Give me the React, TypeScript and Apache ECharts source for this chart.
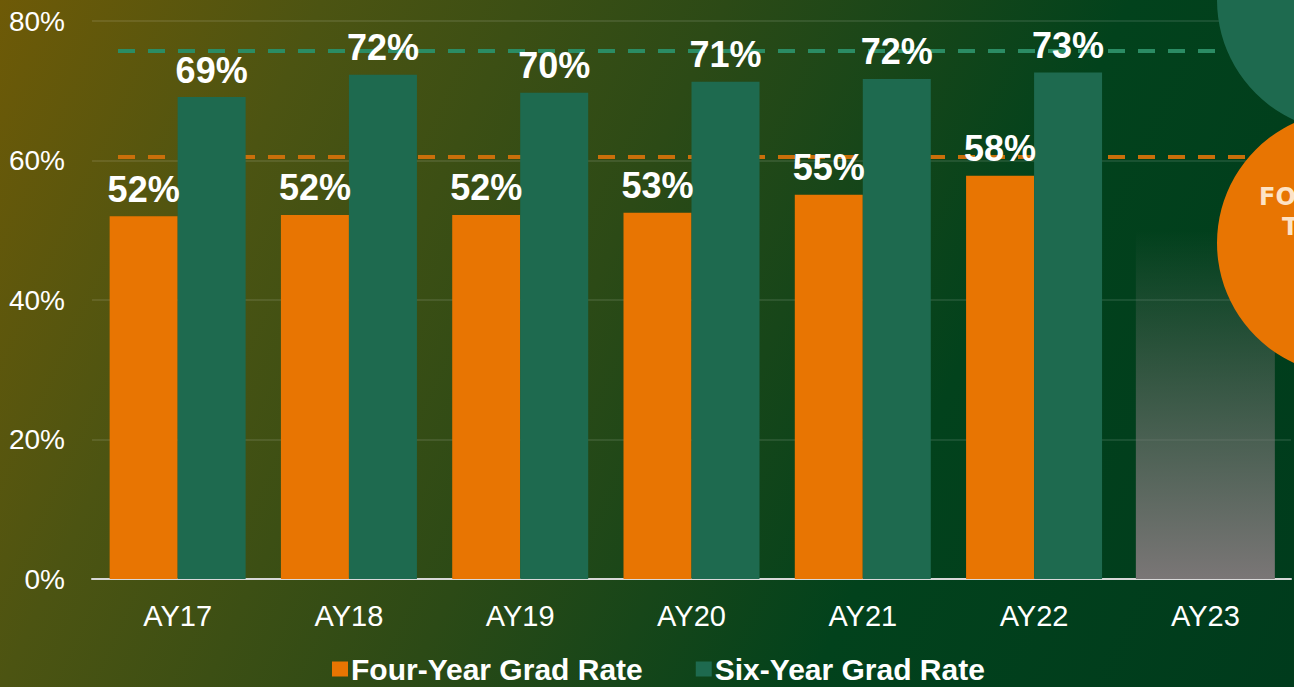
import React, { useEffect, useRef } from "react";
import * as echarts from "echarts";

const categories = ["AY17", "AY18", "AY19", "AY20", "AY21", "AY22", "AY23"];
const fourYear = [52.0, 52.2, 52.2, 52.5, 55.1, 57.8, null];
const sixYear = [69.1, 72.3, 69.7, 71.3, 71.7, 72.6, null];
const pending = [null, null, null, null, null, null, 50];
const targetNames = ["Six-Year Target", "Four-Year Target"];
const targets = [75.7, 60.5];
const targetColors = ["#2b8c64", "#c96f0a"];
const seriesNames = ["Four-Year Grad Rate", "Six-Year Grad Rate"];
const yMin = 0;
const yMax = 80;
const yStep = 20;

const ORANGE = "#e87502";
const GREEN = "#1e6a4f";
const FONT = '"Liberation Sans", Arial, sans-serif';

export default function App() {
  const ref = useRef<HTMLDivElement>(null);

  useEffect(() => {
    document.body.style.margin = "0";
    if (!ref.current) return;
    const chart = echarts.init(ref.current, null, { renderer: "svg" });

    const label = {
      show: true,
      position: "top",
      distance: 9,
      color: "#ffffff",
      fontFamily: FONT,
      fontWeight: "bold",
      fontSize: 36,
      formatter: (p: any) => Math.round(p.value) + "%",
    };

    chart.setOption({
      animation: false,
      backgroundColor: "transparent",
      textStyle: { fontFamily: FONT },
      grid: { left: 92, top: 21, width: 1199, height: 558, containLabel: false },
      legend: {
        data: seriesNames,
        left: 327,
        top: 649,
        icon: "rect",
        itemWidth: 16,
        itemHeight: 15,
        itemGap: 53,
        textStyle: {
          color: "#ffffff",
          fontFamily: FONT,
          fontWeight: "bold",
          fontSize: 30,
          padding: [0, 0, 0, -2],
        },
      },
      xAxis: [
        {
          type: "category",
          data: categories,
          axisLine: { show: true, lineStyle: { color: "#d8d8d8", width: 2 } },
          axisTick: { show: false },
          axisLabel: { color: "#ffffff", fontSize: 29, margin: 22, fontFamily: FONT },
          splitLine: { show: false },
        },
        {
          type: "category",
          data: categories,
          show: false,
        },
      ],
      yAxis: {
        type: "value",
        min: yMin,
        max: yMax,
        interval: yStep,
        axisLine: { show: false },
        axisTick: { show: false },
        axisLabel: {
          color: "#ffffff",
          fontSize: 28,
          margin: 27,
          fontFamily: FONT,
          formatter: "{value}%",
        },
        splitLine: { lineStyle: { color: "rgba(255,255,255,0.13)", width: 1.5 } },
      },
      series: [
        {
          type: "custom",
          name: "targets",
          z: 1,
          silent: true,
          data: targets.map((t) => [0, t]),
          encode: { x: 0, y: 1 },
          renderItem: (params: any, api: any) => {
            const pt = api.coord([0, api.value(1)]);
            const cs = params.coordSys;
            return {
              type: "line",
              shape: { x1: cs.x + 26, y1: pt[1], x2: cs.x + cs.width, y2: pt[1] },
              style: {
                stroke: targetColors[params.dataIndex],
                lineWidth: 4,
                lineDash: [17, 13],
              },
            };
          },
        },
        {
          type: "bar",
          name: "pending",
          xAxisIndex: 1,
          z: 1,
          barWidth: 139,
          silent: true,
          data: pending,
          itemStyle: {
            color: new echarts.graphic.LinearGradient(0, 0, 0, 1, [
              { offset: 0, color: "rgba(122,118,118,0)" },
              { offset: 1, color: "rgba(122,118,118,1)" },
            ]),
          },
        },
        {
          type: "bar",
          name: seriesNames[0],
          z: 2,
          barWidth: 68,
          barGap: "0%",
          data: fourYear,
          itemStyle: { color: ORANGE },
          label,
        },
        {
          type: "bar",
          name: seriesNames[1],
          z: 2,
          barWidth: 68,
          barGap: "0%",
          data: sixYear,
          itemStyle: { color: GREEN },
          label,
        },
      ],
      graphic: [
        {
          type: "circle",
          z: 100,
          shape: { cx: 1349, cy: 0, r: 132 },
          style: { fill: GREEN },
          silent: true,
        },
        {
          type: "circle",
          z: 100,
          shape: { cx: 1349, cy: 243, r: 132 },
          style: { fill: ORANGE },
          silent: true,
        },
        {
          type: "text",
          z: 101,
          x: 1259,
          y: 197,
          style: {
            text: "FOUR-YEAR",
            fill: "#fde3c6",
            font: 'bold 24px "DejaVu Sans", sans-serif',
            verticalAlign: "middle",
            align: "left",
          },
          silent: true,
        },
        {
          type: "text",
          z: 101,
          x: 1282,
          y: 227,
          style: {
            text: "TARGET",
            fill: "#fde3c6",
            font: 'bold 24px "DejaVu Sans", sans-serif',
            verticalAlign: "middle",
            align: "left",
          },
          silent: true,
        },
      ],
    });

    return () => chart.dispose();
  }, []);

  return (
    <div
      style={{
        width: 1294,
        height: 687,
        background:
          "linear-gradient(115deg, #6e5a07 0%, #4c5412 20%, #2c4a16 45%, #02421c 70%, #003b1c 100%)",
      }}
    >
      <div ref={ref} style={{ width: 1294, height: 687 }} />
    </div>
  );
}
